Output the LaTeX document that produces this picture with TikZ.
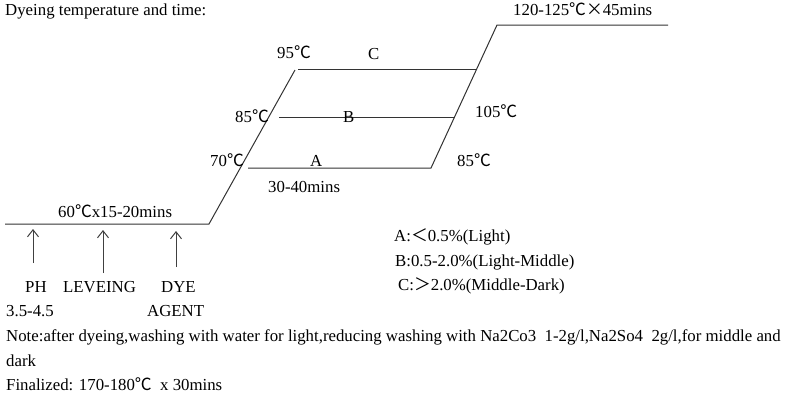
\documentclass[tikz,border=0pt]{standalone}
\usepackage{fontspec}
\setmainfont{Liberation Serif}
\newfontfamily\cjk{Noto Sans CJK SC}
\newcommand{\degc}{{\cjk ℃}}
\usetikzlibrary{arrows.meta}

\tikzset{
	curve/.style={draw=black!80, line width=1pt},
	feed/.style={draw=black!75, line width=1pt, -{Straight Barb[length=7pt,width=11pt]}},
	txt/.style={inner sep=0pt, anchor=base west, font=\fontsize{16.8}{18}\selectfont},
}

\begin{document}
\begin{tikzpicture}[x=1pt, y=-1pt]
		\useasboundingbox (0,0) rectangle (800,400);
		% temperature curve
		\coordinate (p0) at (5,224);
		\coordinate (p1) at (209,224);
		\coordinate (p2) at (295,70);
		\coordinate (a0) at (248,168);
		\coordinate (a1) at (431,168);
		\coordinate (b0) at (279,117);
		\coordinate (b1) at (454,117);
		\coordinate (c0) at (298,69);
		\coordinate (c1) at (477,69);
		\coordinate (t0) at (497,25);
		\coordinate (t1) at (668,25);
		\draw[curve] (p0) -- (p1) -- (p2);
		\draw[curve] (a0) -- (a1) -- (t0) -- (t1);
		\draw[curve] (b0) -- (b1);
		\draw[curve] (c0) -- (c1);
		% labels on the curve
		\node[txt] (title) at (5,15) {Dyeing temperature and time:};
		\node[txt] (top) at (513,15) {120-125\degc{\cjk ×}45mins};
		\node[txt] (t95) at (277,58) {95\degc};
		\node[txt] (lc) at (368,59) {C};
		\node[txt] (t85b) at (235,122) {85\degc};
		\node[txt] (lb) at (343,122) {B};
		\node[txt] (t105) at (475,117) {105\degc};
		\node[txt] (t70) at (210,166) {70\degc};
		\node[txt] (la) at (310,166) {A};
		\node[txt] (t85a) at (457,166) {85\degc};
		\node[txt] (mins) at (268,192) {30-40mins};
		\node[txt] (hold) at (58,217) {60\degc x15-20mins};
		% additions
		\node[txt] (ph) at (25,292) {PH};
		\node[txt] (lev) at (63,292) {LEVEING};
		\node[txt] (dye) at (161,292) {DYE};
		\node[txt] (phval) at (6,316) {3.5-4.5};
		\node[txt] (agent) at (147,316) {AGENT};
		\coordinate (ph1) at (33,229);
		\coordinate (lev1) at (103,230);
		\coordinate (dye1) at (176,231);
		\draw[feed] (33,263) -- (ph1);
		\draw[feed] (103,273) -- (lev1);
		\draw[feed] (176,267) -- (dye1);
		% legend
		\node[txt] (ka) at (394,241) {A:{\cjk ＜}0.5\%(Light)};
		\node[txt] (kb) at (395,266) {B:0.5-2.0\%(Light-Middle)};
		\node[txt] (kc) at (398,290) {C:{\cjk ＞}2.0\%(Middle-Dark)};
		% notes
		\node[txt] (note) at (6,341) {Note:after dyeing,washing with water for light,reducing washing with Na2Co3\ \ 1-2g/l,Na2So4\ \ 2g/l,for middle and};
		\node[txt] (dark) at (6,366) {dark};
		\node[txt] (fin) at (6,390) {Finalized: 170-180\degc\ \ x 30mins};
	\end{tikzpicture}
\end{document}
